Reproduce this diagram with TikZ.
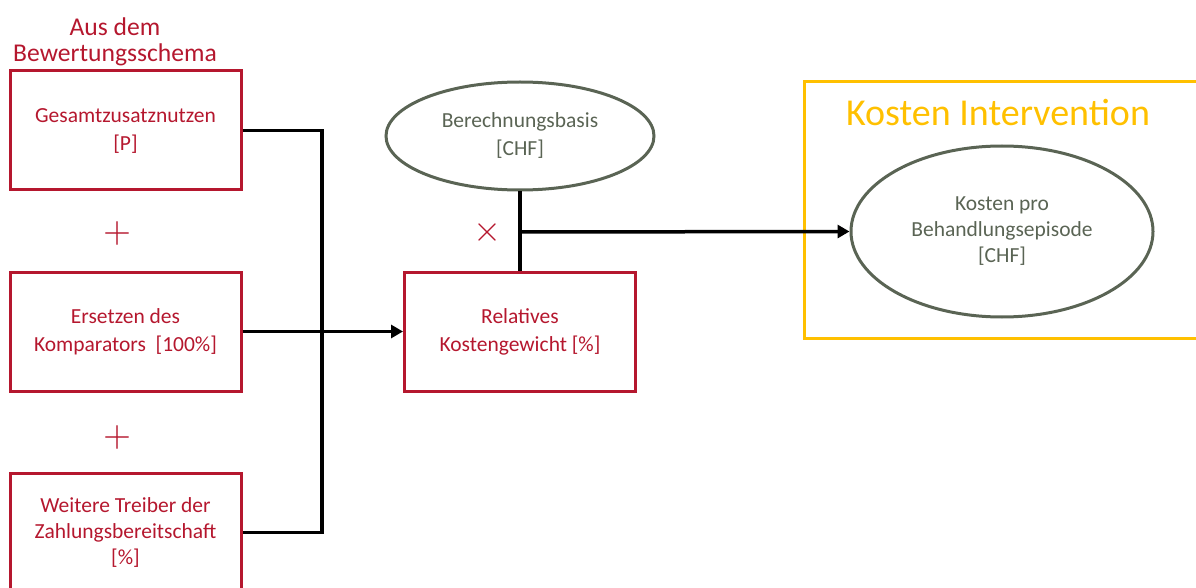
\documentclass[tikz,border=0pt]{standalone}
\usepackage{fontspec}
\setmainfont{Carlito}
\usetikzlibrary{arrows.meta,shapes.geometric,positioning}
\definecolor{kred}{HTML}{B5172E}
\definecolor{kgrey}{HTML}{5A6454}
\definecolor{kyellow}{HTML}{FFC000}

\tikzset{
    redbox/.style={draw=kred, line width=3pt, minimum width=231pt, minimum height=119pt,
        inner sep=0pt, text=kred, align=center, font=\fontsize{21.5}{28}\selectfont},
    greyell/.style={ellipse, draw=kgrey, line width=3pt, inner sep=0pt,
        text=kgrey, align=center, font=\fontsize{21.5}{28}\selectfont},
    link/.style={line width=3.5pt, black},
    linkarrow/.style={link, -{Triangle[length=12pt,width=13pt]}},
    opsign/.style={text=kred, inner sep=0pt}
}

\begin{document}
\begin{tikzpicture}[x=1pt, y=-1pt]
    \clip (0,0) rectangle (1196,588);

    % left column
    \node[text=kred, align=center, font=\fontsize{25.6}{26}\selectfont] (herkunft) at (115,42) {Aus dem\\Bewertungsschema};
    \node[redbox] (gesamt) at (125.5,130.5) {Gesamtzusatznutzen\\{[P]}};
    \node[opsign] (plusa) at (117,233) {\scalebox{3.6}{$+$}};
    \node[redbox] (ersetzen) at (125.5,331.5) {Ersetzen des\\Komparators\ \ [100\%]};
    \node[opsign] (plusb) at (117,437) {\scalebox{3.6}{$+$}};
    \node[redbox, font=\fontsize{21.5}{26}\selectfont] (treiber) at (125.5,532.5) {Weitere Treiber der\\Zahlungsbereitschaft\\{[\%]}};

    % middle
    \node[redbox] (relkg) at (520,331.5) {Relatives\\Kostengewicht [\%]};
    \node[greyell, minimum width=268pt, minimum height=108pt] (basis) at (520,136) {Berechnungsbasis\\{[CHF]}};
    \node[opsign] (mal) at (487,232) {\scalebox{3.6}{$\times$}};

    % right
    \node[draw=kyellow, line width=3pt, minimum width=406pt, minimum height=256pt] (kostenframe) at (1007,210) {};
    \node[text=kyellow, font=\fontsize{38}{40}\selectfont] (kostentitel) at (998,113) {Kosten Intervention};
    \node[greyell, minimum width=302pt, minimum height=171pt, font=\fontsize{21.5}{26}\selectfont] (episode) at (1002,231.5) {Kosten pro\\Behandlungsepisode\\{[CHF]}};

    \coordinate (bus) at (322,331.5);
    \coordinate (split) at (520,232);

    \draw[link] (gesamt.east) -| (bus) |- (treiber.east);
    \draw[linkarrow] (ersetzen.east) -- (relkg.west);
    \draw[link] (basis.south) -- (relkg.north);
    \draw[linkarrow] (split) -- (episode.west);
\end{tikzpicture}
\end{document}
